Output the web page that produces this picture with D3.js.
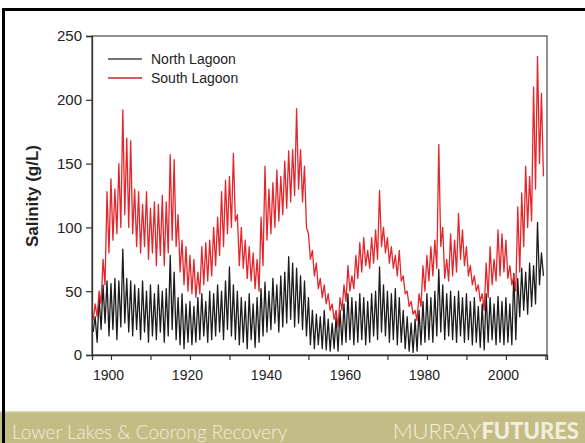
<!DOCTYPE html>
<meta charset="utf-8">
<script src="https://cdn.jsdelivr.net/npm/d3@7"></script>
<style>
  body { margin: 0; background: #fff; }
</style>

<div id="my_dataviz"></div>

<script>

// salinity (g/L), one value every half year from 1895.5 on
var startYear = 1895.5;

var northLagoon = [18,
  30,10, 45,20, 55,25, 58,15,                                  // 1896-1899
  56,20, 60,12, 58,22, 83,25, 60,18, 58,15, 55,20, 52,12, 58,18, 50,10,   // 1900s
  55,15, 48,12, 55,18, 50,10, 52,15, 78,20, 65,12, 45,8, 48,5, 40,10,     // 1910s
  42,8, 38,10, 45,12, 48,15, 42,10, 50,12, 48,15, 55,18, 50,12, 58,20,    // 1920s
  69,15, 55,12, 50,8, 45,10, 42,5, 48,12, 40,6, 45,10, 52,15, 57,18,      // 1930s
  50,20, 60,25, 55,18, 62,22, 65,25, 77,28, 72,22, 68,25, 62,20, 58,15,   // 1940s
  45,8, 35,5, 32,8, 30,5, 35,4, 28,3, 25,5, 30,3, 35,8, 40,10,            // 1950s
  48,12, 45,8, 42,10, 48,12, 45,8, 42,10, 48,15, 50,12, 69,18, 55,15,     // 1960s
  50,10, 48,12, 52,8, 45,10, 35,5, 30,3, 25,2, 28,3, 35,8, 42,10,         // 1970s
  48,12, 45,10, 50,15, 67,18, 55,12, 48,15, 50,12, 46,10, 50,15, 45,10,   // 1980s
  48,12, 42,8, 45,10, 38,6, 40,4, 48,10, 45,12, 40,8, 46,10, 42,8,        // 1990s
  45,10, 40,8, 64,12, 60,30, 68,35, 65,32, 72,38, 70,40, 104,55, 80,62    // 2000s
];

var southLagoon = [27,
  40,30, 50,40, 75,55, 128,80,                                            // 1896-1899
  138,90, 130,95, 150,100, 192,110, 170,100, 168,95, 130,85, 128,80, 118,85, 128,75,  // 1900s
  115,80, 120,70, 118,78, 125,70, 120,80, 157,90, 153,85, 110,65, 90,55, 85,50,       // 1910s
  78,48, 75,45, 65,48, 85,55, 88,58, 90,62, 100,70, 108,78, 128,85, 137,95,           // 1920s
  140,100, 158,105, 110,70, 100,68, 90,60, 85,58, 80,52, 75,50, 108,70, 148,90,       // 1930s
  130,95, 135,100, 145,105, 140,110, 152,115, 160,120, 161,125, 193,130, 161,120, 148,100, // 1940s
  95,75, 82,62, 72,52, 60,45, 55,40, 48,35, 40,28, 35,22, 45,35, 55,42,               // 1950s
  70,50, 62,52, 78,60, 88,65, 92,70, 82,68, 92,72, 98,75, 129,85, 100,80,             // 1960s
  92,72, 85,68, 78,62, 82,58, 62,48, 50,38, 42,32, 35,27, 48,38, 70,50,               // 1970s
  78,58, 85,62, 90,68, 165,85, 100,60, 75,58, 95,62, 90,65, 111,75, 98,70,            // 1980s
  85,62, 70,55, 62,50, 55,42, 48,35, 72,45, 85,55, 75,58, 98,62, 95,65,               // 1990s
  90,60, 70,55, 62,50, 116,65, 127,85, 148,100, 140,105, 210,130, 234,150, 205,140    // 2000s
];

var xTicks = [1900, 1910, 1920, 1930, 1940, 1950, 1960, 1970, 1980, 1990, 2000, 2010];
var xLabels = [1900, 1920, 1940, 1960, 1980, 2000];
var yTicks = [0, 50, 100, 150, 200, 250];
var seriesNames = ["North Lagoon", "South Lagoon"];
var seriesColors = ["#1c1c1c", "#e3262b"];

// set the dimensions and margins of the graph
var W = 585, H = 443;
var margin = {top: 36, right: 38, bottom: 88, left: 92},
    width = W - margin.left - margin.right,
    height = H - margin.top - margin.bottom;

var root = d3.select("#my_dataviz")
  .append("svg")
    .attr("width", W)
    .attr("height", H)
    .style("display", "block");

root.append("rect").attr("width", W).attr("height", H).attr("fill", "#fff");

// slide frame + footer band
root.append("rect").attr("x", 0).attr("y", 412).attr("width", W).attr("height", 31).attr("fill", "#c4bc85");
root.append("rect").attr("x", 0).attr("y", 411).attr("width", W).attr("height", 1.5).attr("fill", "#dcd6b0");
root.append("line").attr("x1", 3.5).attr("x2", 3.5).attr("y1", 8).attr("y2", H).attr("stroke", "#000").attr("stroke-width", 3);
root.append("line").attr("x1", 2).attr("x2", W).attr("y1", 9.5).attr("y2", 9.5).attr("stroke", "#000").attr("stroke-width", 3);

root.append("text").attr("x", 12).attr("y", 439)
  .text("Lower Lakes & Coorong Recovery")
  .style("font-family", "Lato, 'Open Sans', sans-serif").style("font-weight", 300)
  .style("font-size", "19px").attr("fill", "#f1eedd");

var brand = root.append("text").attr("x", 579).attr("y", 439).attr("text-anchor", "end")
  .style("font-family", "Lato, 'Open Sans', sans-serif").style("font-size", "22px").attr("fill", "#f1eedd");
brand.append("tspan").text("MURRAY").style("font-weight", 300);
brand.append("tspan").text("FUTURES").style("font-weight", 900);

var svg = root.append("g")
    .attr("transform", "translate(" + margin.left + "," + margin.top + ")");

var x = d3.scaleLinear().domain([1895.2, 2010.4]).range([0, width]);
var y = d3.scaleLinear().domain([0, 250]).range([height, 0]);

// plot box
svg.append("rect").attr("width", width).attr("height", height)
  .attr("fill", "none").attr("stroke", "#555").attr("stroke-width", 1.3);

// axes
var xAxis = svg.append("g")
  .attr("transform", "translate(0," + height + ")")
  .call(d3.axisBottom(x).tickValues(xTicks).tickSize(5).tickPadding(10)
    .tickFormat(function(d) { return xLabels.indexOf(d) >= 0 ? d : ""; }));
var yAxis = svg.append("g")
  .call(d3.axisLeft(y).tickValues(yTicks).tickSize(6).tickPadding(4));

[xAxis, yAxis].forEach(function(a) {
  a.select(".domain").attr("stroke", "#333").attr("stroke-width", 1.3);
  a.selectAll(".tick line").attr("stroke", "#333").attr("stroke-width", 1.2);
  a.selectAll("text").style("font-family", "'Liberation Sans', Arial, sans-serif").attr("fill", "#222");
});
xAxis.selectAll("text").style("font-size", "14px").attr("dx", -3);
yAxis.selectAll("text").style("font-size", "15px");

svg.append("text")
  .attr("transform", "rotate(-90)")
  .attr("x", -(196 - margin.top)).attr("y", -54)
  .attr("text-anchor", "middle")
  .text("Salinity (g/L)")
  .style("font-family", "'Liberation Sans', Arial, sans-serif")
  .style("font-size", "17px").style("font-weight", "bold").attr("fill", "#222");

// lines
var line = d3.line()
  .x(function(d, i) { return x(startYear + i * 0.5); })
  .y(function(d) { return y(d); });

[northLagoon, southLagoon].forEach(function(s, k) {
  svg.append("path")
    .datum(s)
    .attr("fill", "none")
    .attr("stroke", seriesColors[k])
    .attr("stroke-width", 1.3)
    .attr("stroke-linejoin", "round")
    .attr("d", line);
});

// legend
seriesNames.forEach(function(name, k) {
  var ly = 59 - margin.top + k * 19;
  svg.append("line").attr("x1", 16).attr("x2", 50).attr("y1", ly).attr("y2", ly)
    .attr("stroke", k === 0 ? "#444" : "#c42a2a").attr("stroke-width", 1.5);
  svg.append("text").attr("x", 59).attr("y", ly).attr("dy", "0.35em")
    .text(name)
    .style("font-family", "'Liberation Sans', Arial, sans-serif")
    .style("font-size", "14px").attr("fill", "#222");
});

</script>
